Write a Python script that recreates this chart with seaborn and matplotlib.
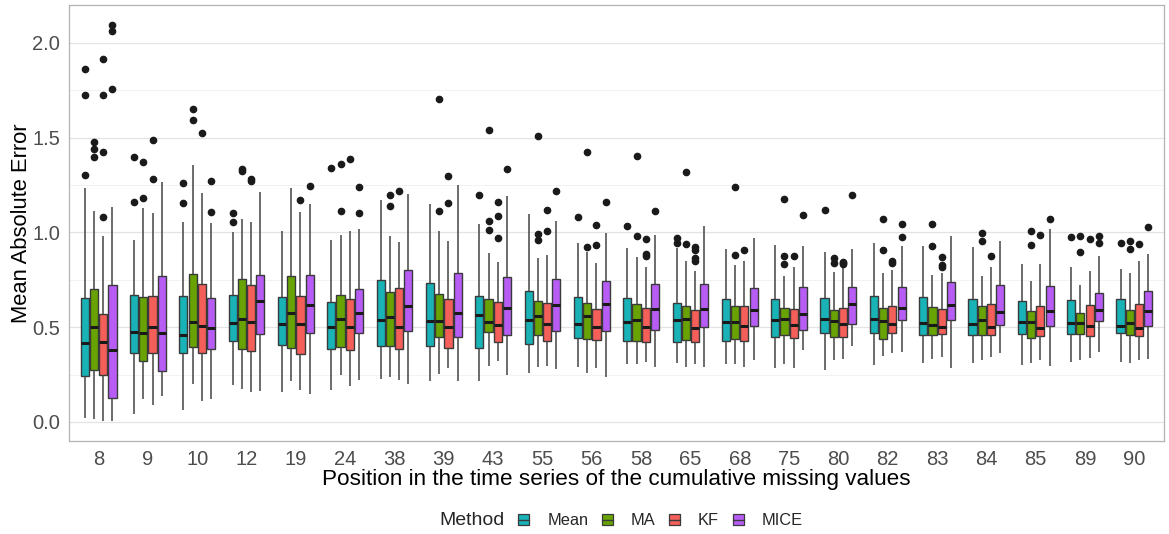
import numpy as np
import pandas as pd
import matplotlib
matplotlib.use("Agg")
import matplotlib.pyplot as plt
from matplotlib.patches import Patch
from matplotlib.lines import Line2D
from matplotlib.legend_handler import HandlerTuple
from matplotlib.ticker import MultipleLocator
import seaborn as sns

positions = ["8", "9", "10", "12", "19", "24", "38", "39", "43", "55", "56",
             "58", "65", "68", "75", "80", "82", "83", "84", "85", "89", "90"]
methods = ["Mean", "MA", "KF", "MICE"]
colors = ["#18B2B7", "#68A303", "#F45F5A", "#B75DF6"]

# ---- Mean ----
mean_lo  = [0.023, 0.042, 0.062, 0.193, 0.157, 0.169, 0.225, 0.215, 0.216, 0.257, 0.287,
            0.304, 0.313, 0.303, 0.285, 0.274, 0.299, 0.313, 0.311, 0.301, 0.315, 0.315]
mean_q1  = [0.243, 0.362, 0.362, 0.429, 0.408, 0.383, 0.399, 0.398, 0.391, 0.412, 0.445,
            0.429, 0.424, 0.429, 0.450, 0.468, 0.471, 0.456, 0.457, 0.463, 0.466, 0.470]
mean_med = [0.417, 0.473, 0.456, 0.522, 0.519, 0.503, 0.540, 0.533, 0.566, 0.537, 0.519,
            0.526, 0.540, 0.528, 0.537, 0.542, 0.542, 0.524, 0.519, 0.526, 0.522, 0.507]
mean_q3  = [0.654, 0.670, 0.663, 0.668, 0.660, 0.633, 0.748, 0.733, 0.667, 0.690, 0.660,
            0.654, 0.628, 0.651, 0.647, 0.653, 0.667, 0.660, 0.647, 0.639, 0.642, 0.646]
mean_hi  = [1.237, 0.959, 1.055, 1.004, 1.008, 0.959, 1.173, 1.152, 1.043, 1.096, 0.945,
            0.916, 0.918, 0.915, 0.932, 0.899, 0.943, 0.929, 0.922, 0.832, 0.816, 0.809]
mean_out = [[1.863, 1.727, 1.302], [1.398, 1.159], [1.261, 1.157], [1.103, 1.057], [], [1.340],
            [], [], [1.196], [], [1.084], [1.033], [0.973, 0.946], [], [], [1.120], [], [], [],
            [], [0.975], [0.945]]

# ---- MA ----
ma_lo  = [0.016, 0.120, 0.199, 0.171, 0.215, 0.248, 0.239, 0.252, 0.294, 0.288, 0.260,
          0.308, 0.292, 0.303, 0.306, 0.325, 0.350, 0.332, 0.324, 0.311, 0.324, 0.311]
ma_q1  = [0.276, 0.320, 0.396, 0.387, 0.392, 0.396, 0.401, 0.449, 0.473, 0.459, 0.440,
          0.426, 0.434, 0.436, 0.456, 0.449, 0.440, 0.459, 0.456, 0.445, 0.466, 0.456]
ma_med = [0.500, 0.471, 0.526, 0.545, 0.573, 0.545, 0.552, 0.533, 0.528, 0.558, 0.558,
          0.540, 0.542, 0.526, 0.542, 0.531, 0.531, 0.512, 0.537, 0.526, 0.522, 0.521]
ma_q3  = [0.702, 0.660, 0.783, 0.755, 0.772, 0.672, 0.688, 0.677, 0.646, 0.639, 0.628,
          0.624, 0.610, 0.610, 0.600, 0.593, 0.603, 0.605, 0.610, 0.586, 0.577, 0.591]
ma_hi  = [1.113, 1.131, 1.358, 1.071, 1.237, 0.985, 0.983, 1.010, 0.892, 0.865, 0.895,
          0.871, 0.850, 0.827, 0.770, 0.792, 0.788, 0.776, 0.769, 0.742, 0.721, 0.786]
ma_out = [[1.479, 1.439, 1.398], [1.370, 1.184], [1.650, 1.595], [1.333, 1.326], [],
          [1.361, 1.112], [1.200, 1.140], [1.703, 1.115], [1.541, 1.059, 1.011],
          [1.511, 0.994, 0.959], [1.423, 0.925], [1.404, 0.983], [1.318, 0.941], [1.242, 0.880],
          [1.175, 0.876, 0.835], [0.867, 0.837], [1.073, 0.909], [1.045, 0.929], [0.999, 0.953],
          [1.008, 0.932], [0.983, 0.899], [0.953, 0.915]]

# ---- KF ----
kf_lo  = [0.005, 0.091, 0.109, 0.157, 0.167, 0.190, 0.220, 0.283, 0.322, 0.294, 0.285,
          0.315, 0.308, 0.288, 0.285, 0.332, 0.361, 0.341, 0.343, 0.329, 0.338, 0.324]
kf_q1  = [0.250, 0.362, 0.366, 0.373, 0.359, 0.382, 0.383, 0.391, 0.419, 0.427, 0.434,
          0.424, 0.420, 0.427, 0.443, 0.450, 0.470, 0.463, 0.456, 0.452, 0.452, 0.454]
kf_med = [0.424, 0.501, 0.505, 0.529, 0.514, 0.500, 0.503, 0.501, 0.510, 0.517, 0.501,
          0.500, 0.496, 0.507, 0.512, 0.514, 0.514, 0.501, 0.500, 0.494, 0.507, 0.498]
kf_q3  = [0.570, 0.663, 0.730, 0.721, 0.663, 0.646, 0.709, 0.646, 0.631, 0.626, 0.598,
          0.603, 0.589, 0.612, 0.596, 0.600, 0.610, 0.596, 0.621, 0.612, 0.619, 0.624]
kf_hi  = [0.980, 1.103, 1.210, 1.054, 1.110, 1.006, 0.952, 0.953, 0.843, 0.883, 0.839,
          0.818, 0.797, 0.848, 0.816, 0.815, 0.804, 0.788, 0.818, 0.832, 0.795, 0.848]
kf_out = [[1.917, 1.727, 1.423, 1.080], [1.486, 1.284], [1.525], [1.284, 1.274], [1.170],
          [1.388], [1.217], [1.298, 1.157], [1.159, 1.087, 0.973], [1.120, 1.008],
          [1.038, 0.936], [0.967, 0.888, 0.878], [0.922, 0.909, 0.865, 0.851], [0.906],
          [0.876], [0.845, 0.838, 0.832], [0.851, 0.836], [0.872, 0.827, 0.818], [0.876],
          [0.989], [0.964], [0.939]]

# ---- MICE ----
mice_lo  = [0.002, 0.135, 0.120, 0.164, 0.148, 0.223, 0.200, 0.216, 0.246, 0.281, 0.237,
            0.292, 0.288, 0.327, 0.382, 0.399, 0.369, 0.283, 0.364, 0.297, 0.371, 0.331]
mice_q1  = [0.128, 0.271, 0.383, 0.463, 0.470, 0.471, 0.478, 0.450, 0.457, 0.478, 0.478,
            0.487, 0.503, 0.505, 0.485, 0.519, 0.540, 0.538, 0.512, 0.505, 0.533, 0.505]
mice_med = [0.378, 0.471, 0.498, 0.640, 0.616, 0.575, 0.609, 0.573, 0.600, 0.619, 0.623,
            0.595, 0.596, 0.593, 0.572, 0.624, 0.600, 0.619, 0.580, 0.586, 0.591, 0.586]
mice_q3  = [0.725, 0.769, 0.656, 0.774, 0.774, 0.700, 0.804, 0.786, 0.763, 0.753, 0.746,
            0.726, 0.730, 0.705, 0.712, 0.711, 0.711, 0.739, 0.723, 0.719, 0.679, 0.693]
mice_hi  = [1.135, 1.266, 1.050, 1.214, 1.152, 1.018, 1.201, 1.252, 1.193, 1.059, 0.999,
            0.985, 1.033, 0.973, 0.927, 0.915, 0.929, 0.980, 0.955, 1.020, 0.876, 0.888]
mice_out = [[2.095, 2.065, 1.759], [], [1.274, 1.110], [], [1.247], [1.240, 1.103], [], [],
            [1.337], [1.219], [1.159], [1.115], [], [], [1.094], [1.196], [1.047, 0.976],
            [], [], [1.069], [0.983, 0.946], [1.029]]

stats = {
    "Mean": (mean_lo, mean_q1, mean_med, mean_q3, mean_hi, mean_out),
    "MA": (ma_lo, ma_q1, ma_med, ma_q3, ma_hi, ma_out),
    "KF": (kf_lo, kf_q1, kf_med, kf_q3, kf_hi, kf_out),
    "MICE": (mice_lo, mice_q1, mice_med, mice_q3, mice_hi, mice_out),
}

# Build a sample for each box whose quartiles / whiskers / outliers match the summary
REP = 20
rows = []
for meth in methods:
    lo, q1, med, q3, hi, out = stats[meth]
    for i, pos in enumerate(positions):
        vals = ([lo[i]] * REP + [q1[i]] * REP + [med[i]] * REP +
                [q3[i]] * REP + [hi[i]] * REP + list(out[i]))
        for v in vals:
            rows.append((pos, meth, v))
df = pd.DataFrame(rows, columns=["Position", "Method", "MAE"])

sns.set_style("white")
plt.rcParams["font.family"] = ["Liberation Sans", "DejaVu Sans"]

fig = plt.figure(figsize=(11.69, 5.34), dpi=100)
ax = fig.add_axes([0.059, 0.1745, 0.9367, 0.816])

# grid
ax.set_axisbelow(True)
ax.yaxis.set_major_locator(MultipleLocator(0.5))
ax.yaxis.set_minor_locator(MultipleLocator(0.25))
ax.grid(which="major", axis="both", color="#E3E3E3", linewidth=0.9)
ax.grid(which="minor", axis="y", color="#F0F0F0", linewidth=0.6)

sns.boxplot(data=df, x="Position", y="MAE", hue="Method", order=positions,
            hue_order=methods, palette=colors, saturation=1, width=0.75, gap=0.12,
            linewidth=1.0, linecolor="#3a3a3a", fliersize=4.5,
            flierprops=dict(marker="o", markerfacecolor="#1a1a1a",
                            markeredgecolor="#1a1a1a"),
            medianprops=dict(color="#1a1a1a", linewidth=2.2),
            whiskerprops=dict(color="#444444", linewidth=1.1),
            showcaps=False, legend=False, ax=ax)

ax.set_xlim(-0.6, 21.6)
ax.set_ylim(-0.10, 2.20)
ax.set_yticks([0.0, 0.5, 1.0, 1.5, 2.0])
ax.set_yticklabels(["0.0", "0.5", "1.0", "1.5", "2.0"])

for s in ax.spines.values():
    s.set_color("#B3B3B3")
    s.set_linewidth(0.9)

ax.tick_params(axis="both", which="major", length=4, width=0.8, color="#B3B3B3",
               labelsize=14.5, labelcolor="#4D4D4D", pad=2.5)
ax.tick_params(axis="y", which="minor", length=0)

ax.set_xlabel("Position in the time series of the cumulative missing values",
              fontsize=16.2, color="black", labelpad=0)
ax.set_ylabel("Mean Absolute Error", fontsize=15.8, color="black", labelpad=0)

handles = [(Patch(facecolor=c, edgecolor="#3a3a3a", linewidth=0.9),
            Line2D([0], [0], color="#3a3a3a", linewidth=1.0)) for c in colors]
leg = fig.legend(handles, methods, loc="center left", bbox_to_anchor=(0.4435, 0.0245),
                 ncol=4, frameon=False, fontsize=11.8, handlelength=0.65,
                 handleheight=0.6, handletextpad=1.1, columnspacing=0.85,
                 borderpad=0, borderaxespad=0,
                 handler_map={tuple: HandlerTuple(ndivide=1, pad=0)})
fig.text(0.4035, 0.0245, "Method", fontsize=14, ha="center", va="center")

fig.savefig("out.png", dpi=100)
